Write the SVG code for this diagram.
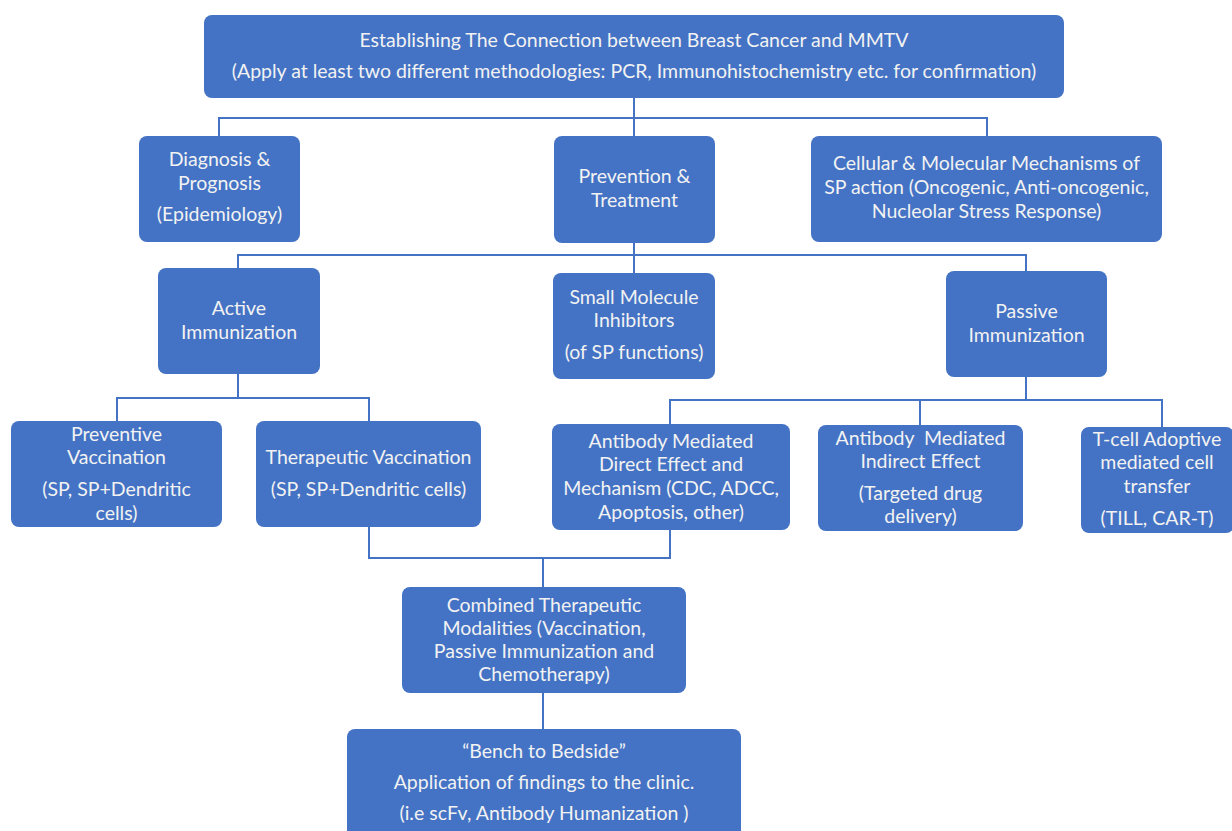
<svg xmlns="http://www.w3.org/2000/svg" width="1232" height="831" viewBox="0 0 1232 831">
<style>
.box{fill:#4472C4;}
.t{font-family:Lato,"Liberation Sans",sans-serif;font-size:19.5px;fill:#F2F2F2;text-anchor:middle;}
.c{fill:none;stroke:#4472C4;stroke-width:2;}
</style>
<rect width="1232" height="831" fill="#FFFFFF"/>
<g id="connectors">
<path class="c" d="M634 98V118M219 136V118H987V136M634 118V136"/>
<path class="c" d="M634 243V255M238 268V255H1026V271M634 255V273"/>
<path class="c" d="M238 374V398M117 421V398H369V421"/>
<path class="c" d="M1026 377V400M670 424V400H1162V427M920 400V425"/>
<path class="c" d="M369 527V558H670V530M543 558V587"/>
<path class="c" d="M543 693V729"/>
</g>
<g id="n1"><rect class="box" x="204" y="15" width="860" height="83" rx="8"/>
<text class="t" x="634" y="47">Establishing The Connection between Breast Cancer and MMTV</text>
<text class="t" x="634" y="78">(Apply at least two different methodologies: PCR, Immunohistochemistry etc. for confirmation)</text></g>
<g id="n2"><rect class="box" x="139" y="136" width="161" height="106" rx="8"/>
<text class="t" x="219.5" y="166">Diagnosis &amp;</text><text class="t" x="219.5" y="190">Prognosis</text><text class="t" x="219.5" y="221">(Epidemiology)</text></g>
<g id="n3"><rect class="box" x="554" y="136" width="161" height="107" rx="8"/>
<text class="t" x="634.5" y="183">Prevention &amp;</text><text class="t" x="634.5" y="207">Treatment</text></g>
<g id="n4"><rect class="box" x="811" y="136" width="351" height="106" rx="8"/>
<text class="t" x="986.5" y="170">Cellular &amp; Molecular Mechanisms of</text><text class="t" x="986.5" y="194">SP action (Oncogenic, Anti-oncogenic,</text><text class="t" x="986.5" y="218">Nucleolar Stress Response)</text></g>
<g id="n5"><rect class="box" x="158" y="268" width="162" height="106" rx="8"/>
<text class="t" x="239" y="315">Active</text><text class="t" x="239" y="339">Immunization</text></g>
<g id="n6"><rect class="box" x="553" y="273" width="162" height="106" rx="8"/>
<text class="t" x="634" y="304">Small Molecule</text><text class="t" x="634" y="327">Inhibitors</text><text class="t" x="634" y="359">(of SP functions)</text></g>
<g id="n7"><rect class="box" x="946" y="271" width="161" height="106" rx="8"/>
<text class="t" x="1026.5" y="318">Passive</text><text class="t" x="1026.5" y="342">Immunization</text></g>
<g id="n8"><rect class="box" x="11" y="421" width="211" height="106" rx="8"/>
<text class="t" x="116.5" y="441">Preventive</text><text class="t" x="116.5" y="464">Vaccination</text><text class="t" x="116.5" y="496">(SP, SP+Dendritic</text><text class="t" x="116.5" y="520">cells)</text></g>
<g id="n9"><rect class="box" x="256" y="421" width="225" height="106" rx="8"/>
<text class="t" x="368.5" y="464">Therapeutic Vaccination</text><text class="t" x="368.5" y="496">(SP, SP+Dendritic cells)</text></g>
<g id="n10"><rect class="box" x="552" y="424" width="238" height="106" rx="8"/>
<text class="t" x="671" y="448">Antibody Mediated</text><text class="t" x="671" y="471">Direct Effect and</text><text class="t" x="671" y="495">Mechanism (CDC, ADCC,</text><text class="t" x="671" y="519">Apoptosis, other)</text></g>
<g id="n11"><rect class="box" x="818" y="425" width="205" height="106" rx="8"/>
<text class="t" x="920.5" y="445" xml:space="preserve">Antibody  Mediated</text><text class="t" x="920.5" y="468">Indirect Effect</text><text class="t" x="920.5" y="500">(Targeted drug</text><text class="t" x="920.5" y="523">delivery)</text></g>
<g id="n12"><rect class="box" x="1081" y="427" width="153" height="106" rx="8"/>
<text class="t" x="1157" y="446">T-cell Adoptive</text><text class="t" x="1157" y="469">mediated cell</text><text class="t" x="1157" y="493">transfer</text><text class="t" x="1157" y="525">(TILL, CAR-T)</text></g>
<g id="n13"><rect class="box" x="402" y="587" width="284" height="106" rx="8"/>
<text class="t" x="544" y="612">Combined Therapeutic</text><text class="t" x="544" y="635">Modalities (Vaccination,</text><text class="t" x="544" y="658">Passive Immunization and</text><text class="t" x="544" y="681">Chemotherapy)</text></g>
<g id="n14"><rect class="box" x="347" y="729" width="394" height="110" rx="8"/>
<text class="t" x="544" y="758">“Bench to Bedside”</text><text class="t" x="544" y="789">Application of findings to the clinic.</text><text class="t" x="544" y="820">(i.e scFv, Antibody Humanization )</text></g>
</svg>
